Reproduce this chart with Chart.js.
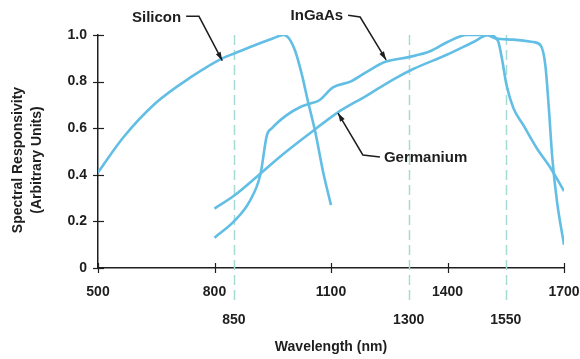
<!DOCTYPE html>
<html>
<head>
<meta charset="utf-8">
<script src="https://cdn.jsdelivr.net/npm/chart.js@4.4.0/dist/chart.umd.min.js"></script>
<style>
  html, body { margin: 0; padding: 0; background: #fff; }
</style>
</head>
<body>
<canvas id="chart" width="580" height="359"></canvas>
<script>
// wavelength (nm) / responsivity
const siliconNm   = [500, 565, 650, 740, 820, 850, 910, 950, 978, 992, 1008, 1025, 1040, 1060, 1080, 1100];
const siliconResp = [0.41, 0.56, 0.71, 0.82, 0.90, 0.92, 0.96, 0.985, 1.0, 0.985, 0.93, 0.83, 0.72, 0.58, 0.41, 0.27];

const ingaasNm   = [800, 850, 890, 918, 935, 948, 985, 1020, 1045, 1070, 1105, 1150, 1190, 1240, 1300, 1355, 1400, 1450, 1500, 1525, 1570, 1620, 1640, 1652, 1661, 1670, 1682, 1700];
const ingaasResp = [0.13, 0.20, 0.285, 0.40, 0.57, 0.60, 0.655, 0.69, 0.705, 0.72, 0.775, 0.80, 0.84, 0.885, 0.905, 0.93, 0.97, 1.0, 1.0, 0.985, 0.98, 0.97, 0.955, 0.87, 0.685, 0.47, 0.285, 0.10];

const germaniumNm   = [800, 850, 918, 978, 1055, 1115, 1192, 1261, 1313, 1398, 1467, 1505, 1530, 1540, 1552, 1570, 1595, 1630, 1665, 1700];
const germaniumResp = [0.255, 0.31, 0.405, 0.49, 0.59, 0.665, 0.74, 0.81, 0.855, 0.915, 0.97, 1.0, 0.975, 0.90, 0.785, 0.685, 0.614, 0.514, 0.43, 0.33];

// telecom windows shown as dashed lines + second row of labels
const windowNm = [850, 1300, 1550];

// callouts: label, label anchor, elbow, arrow tip (data units)
const callouts = [
  { text: 'Silicon',   side: 'left',  at: [727, 1.08],  elbow: [760, 1.08],  tip: [820, 0.89] },
  { text: 'InGaAs',    side: 'left',  at: [1144, 1.085], elbow: [1175, 1.077], tip: [1242, 0.893] },
  { text: 'Germanium', side: 'right', at: [1226, 0.476], elbow: [1182, 0.485], tip: [1118, 0.665] },
];

const toPoints = (xs, ys) => xs.map((x, i) => ({ x, y: ys[i] }));

const CURVE = 'rgb(98,190,228)';
const FONT = '"Liberation Sans", Arial, sans-serif';
const INK = '#1e1e1e';

const decor = {
  id: 'decor',
  beforeDatasetsDraw(chart) {
    const { ctx, chartArea, scales: { x } } = chart;
    ctx.save();
    ctx.strokeStyle = 'rgb(166,218,212)';
    ctx.lineWidth = 1.5;
    ctx.setLineDash([10, 5]);
    windowNm.forEach((nm) => {
      const px = Math.round(x.getPixelForValue(nm)) + 0.5;
      ctx.beginPath();
      ctx.moveTo(px, chartArea.top);
      ctx.lineTo(px, chartArea.bottom + 36);
      ctx.stroke();
    });
    ctx.restore();
  },
  afterDraw(chart) {
    const { ctx, chartArea, scales: { x, y } } = chart;
    ctx.save();
    ctx.strokeStyle = INK;
    ctx.lineWidth = 1.2;
    // ticks crossing the axes
    x.ticks.forEach((t) => {
      const px = Math.round(x.getPixelForValue(t.value)) + 0.5;
      ctx.beginPath();
      ctx.moveTo(px, chartArea.bottom - 5);
      ctx.lineTo(px, chartArea.bottom + 5);
      ctx.stroke();
    });
    y.ticks.forEach((t) => {
      const py = Math.round(y.getPixelForValue(t.value)) + 0.5;
      ctx.beginPath();
      ctx.moveTo(chartArea.left - 5, py);
      ctx.lineTo(chartArea.left + 6, py);
      ctx.stroke();
    });

    ctx.fillStyle = INK;
    ctx.font = 'bold 14px ' + FONT;
    ctx.textAlign = 'center';
    ctx.textBaseline = 'middle';
    windowNm.forEach((nm) => {
      ctx.fillText(String(nm), x.getPixelForValue(nm), chartArea.bottom + 52);
    });

    ctx.fillText('Wavelength (nm)', (chartArea.left + chartArea.right) / 2, 347);

    ctx.save();
    ctx.translate(18, 160);
    ctx.rotate(-Math.PI / 2);
    ctx.fillText('Spectral Responsivity', 0, 0);
    ctx.fillText('(Arbitrary Units)', 0, 19);
    ctx.restore();

    // callouts
    ctx.font = 'bold 15px ' + FONT;
    ctx.lineWidth = 1.5;
    callouts.forEach((c) => {
      const ax = x.getPixelForValue(c.at[0]);
      const ay = y.getPixelForValue(c.at[1]);
      const ex = x.getPixelForValue(c.elbow[0]);
      const ey = y.getPixelForValue(c.elbow[1]);
      const tx = x.getPixelForValue(c.tip[0]);
      const ty = y.getPixelForValue(c.tip[1]);
      ctx.textAlign = c.side === 'left' ? 'right' : 'left';
      ctx.fillText(c.text, c.side === 'left' ? ax - 5 : ax + 4, ay + 1);
      ctx.beginPath();
      ctx.moveTo(ax, ay);
      ctx.lineTo(ex, ey);
      ctx.lineTo(tx, ty);
      ctx.stroke();
      const ang = Math.atan2(ty - ey, tx - ex);
      ctx.beginPath();
      ctx.moveTo(tx, ty);
      ctx.lineTo(tx - 9 * Math.cos(ang - 0.3), ty - 9 * Math.sin(ang - 0.3));
      ctx.lineTo(tx - 9 * Math.cos(ang + 0.3), ty - 9 * Math.sin(ang + 0.3));
      ctx.closePath();
      ctx.fill();
    });
    ctx.restore();
  },
};

const lineSet = (label, xs, ys) => ({
  label,
  data: toPoints(xs, ys),
  borderColor: CURVE,
  borderWidth: 2.6,
  pointRadius: 0,
  fill: false,
  cubicInterpolationMode: 'monotone',
});

new Chart(document.getElementById('chart'), {
  type: 'line',
  data: {
    datasets: [
      lineSet('Silicon', siliconNm, siliconResp),
      lineSet('InGaAs', ingaasNm, ingaasResp),
      lineSet('Germanium', germaniumNm, germaniumResp),
    ],
  },
  options: {
    responsive: false,
    animation: false,
    devicePixelRatio: 1,
    layout: { padding: { top: 35, right: 16, left: 0, bottom: 0 } },
    plugins: { legend: { display: false }, tooltip: { enabled: false } },
    scales: {
      x: {
        type: 'linear',
        min: 500,
        max: 1700,
        afterFit: (s) => {
          s.height = 91;
          s.paddingLeft = 0;
          s.paddingRight = 0;
        },
        ticks: {
          stepSize: 300,
          padding: 16,
          color: INK,
          font: { family: FONT, size: 14, weight: 'bold' },
          maxRotation: 0,
          callback: (v) => String(v),
        },
        grid: { drawOnChartArea: false, drawTicks: false },
        border: { color: INK, width: 1.5 },
      },
      y: {
        min: 0,
        max: 1,
        afterFit: (s) => { s.width = 98; },
        ticks: {
          stepSize: 0.2,
          padding: 11,
          color: INK,
          font: { family: FONT, size: 14, weight: 'bold' },
          callback: (v) => (v === 0 ? '0' : v.toFixed(1)),
        },
        grid: { drawOnChartArea: false, drawTicks: false },
        border: { color: INK, width: 1.5 },
      },
    },
  },
  plugins: [decor],
});
</script>
</body>
</html>
